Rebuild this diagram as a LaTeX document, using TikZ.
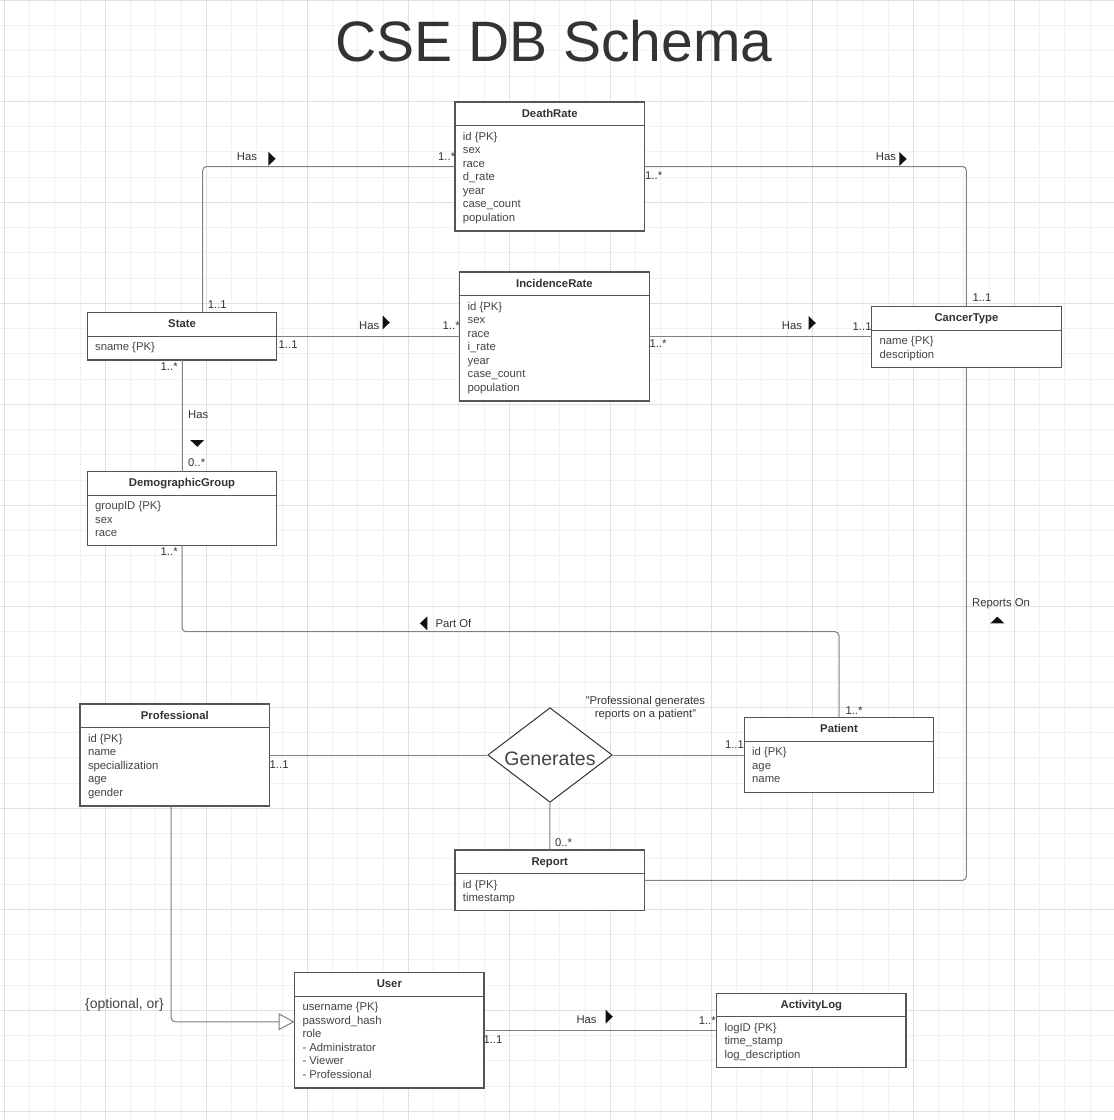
\documentclass[tikz,border=0pt]{standalone}
\usepackage{fontspec}
\setmainfont{Liberation Sans}
\usetikzlibrary{arrows.meta,shapes.geometric,calc}

\definecolor{txt}{HTML}{333333}
\definecolor{attr}{HTML}{444444}
\definecolor{boxline}{HTML}{555555}
\definecolor{conncol}{HTML}{808080}
\definecolor{gridminor}{HTML}{F1F1F1}
\definecolor{gridmajor}{HTML}{E0E0E0}
\definecolor{tricol}{HTML}{111111}

\newcommand{\fs}{\fontsize{11.3}{13.5}\selectfont}

\tikzset{
  entity/.style={draw=boxline, line width=1.3pt, fill=white, anchor=north west,
    inner sep=0pt, outer sep=0pt, minimum width=189.5pt},
  divline/.style={draw=boxline, line width=1.3pt},
  hdr/.style={anchor=base, font=\fs\bfseries, text=txt, inner sep=0pt},
  att/.style={anchor=base west, font=\fs, text=attr, inner sep=0pt},
  lbl/.style={anchor=base west, font=\fs, text=txt, inner sep=0pt},
  conn/.style={draw=conncol, line width=1pt, rounded corners=4pt},
  tri/.style={fill=tricol},
  relation/.style={diamond, draw=black!80, line width=1pt, fill=white, inner sep=0pt,
    minimum width=124.5pt, minimum height=94.6pt},
  reltext/.style={anchor=base, inner sep=0pt, font=\fontsize{19.5}{22}\selectfont, text=attr},
}

% #1 name, #2 x, #3 y, #4 height, #5 header, #6 attributes
\newcommand{\drawentity}[6]{%
  \node[entity, minimum height=#4pt] (#1) at (#2,#3) {};
  \draw[divline] ($(#1.north west)+(0,23.5)$) -- ($(#1.north east)+(0,23.5)$);
  \node[hdr] (#1-h) at ($(#1.north)+(0,15)$) {#5};
  \foreach \a [count=\i] in {#6} {
    \node[att] (#1-a\i) at ($(#1.north west)+(7.7,23.5+14.5+13.55*\i-13.55)$) {\a};
  }%
}

\begin{document}
\begin{tikzpicture}[x=1pt,y=-1pt]
\useasboundingbox (0,0) rectangle (1114,1120);
\fill[white] (0,0) rectangle (1114,1120);

% grid
\foreach \i in {0,...,44} {
  \draw[gridminor, line width=1pt] (4.3+25.25*\i,0) -- (4.3+25.25*\i,1120);
  \draw[gridminor, line width=1pt] (0,0.3+25.25*\i) -- (1114,0.3+25.25*\i);
}
\foreach \i in {0,...,11} {
  \draw[gridmajor, line width=1pt] (4.3+101*\i,0) -- (4.3+101*\i,1120);
  \draw[gridmajor, line width=1pt] (0,0.3+101*\i) -- (1114,0.3+101*\i);
}

% title
\node[anchor=base, inner sep=0pt, text=txt, font=\fontsize{57}{60}\selectfont] (title) at (554,61) {CSE DB Schema};

% entities
\drawentity{deathrate}{455}{102}{129}{DeathRate}{id \{PK\}, sex, race, d\_rate, year, case\_count, population}
\drawentity{incidencerate}{459.7}{272}{129}{IncidenceRate}{id \{PK\}, sex, race, i\_rate, year, case\_count, population}
\drawentity{state}{87.3}{312.7}{47.3}{State}{sname \{PK\}}
\drawentity{cancertype}{871.7}{306.7}{61}{CancerType}{name \{PK\}, description}
\drawentity{demographicgroup}{87.3}{471.7}{73.6}{DemographicGroup}{groupID \{PK\}, sex, race}
\drawentity{professional}{80.1}{704}{102}{Professional}{id \{PK\}, name, speciallization, age, gender}
\drawentity{patient}{744.3}{717.7}{74.6}{Patient}{id \{PK\}, age, name}
\drawentity{report}{455}{850}{60.7}{Report}{id \{PK\}, timestamp}
\drawentity{user}{294.6}{972.7}{115.3}{User}{username \{PK\}, password\_hash, role, - Administrator, - Viewer, - Professional}
\drawentity{activitylog}{716.6}{993.3}{74.4}{ActivityLog}{logID \{PK\}, time\_stamp, log\_description}

% relationship diamond
\node[relation] (generates) at (550,755) {};
\node[reltext] (generates-t) at ($(generates.center)+(0,10)$) {Generates};

% connectors
\draw[conn] ($(state.north west)+(115.4,0)$) |- (deathrate.west);
\draw[conn] (deathrate.east) -| (cancertype.north);
\draw[conn] (state.east) -- (state.east -| incidencerate.west);
\draw[conn] (incidencerate.east) -- (incidencerate.east -| cancertype.west);
\draw[conn] (state.south) -- (demographicgroup.north);
\coordinate (partof) at (500,631.7);
\draw[conn] (demographicgroup.south) |- (partof) -| (patient.north);
\draw[conn] (cancertype.south) |- (report.east);
\draw[conn] (professional.east) -- (generates.west);
\draw[conn] (generates.east) -- (patient.west);
\draw[conn] (generates.south) -- (report.north);
\draw[conn, -{Triangle[fill=white, length=16pt, width=17pt]}] ($(professional.south)+(-3.7,0)$) |- ($(user.west)+(0,-8.6)$);
\draw[conn] (user.east) -- (user.east -| activitylog.west);

% direction triangles
\fill[tri] (268.3,151.8) -- (275.6,158.8) -- (268.3,165.8) -- cycle;
\fill[tri] (382.5,315.5) -- (389.8,322.5) -- (382.5,329.5) -- cycle;
\fill[tri] (899.3,152) -- (906.6,159) -- (899.3,166) -- cycle;
\fill[tri] (808.5,316) -- (815.8,323) -- (808.5,330) -- cycle;
\fill[tri] (605.5,1009.7) -- (612.8,1016.7) -- (605.5,1023.7) -- cycle;
\fill[tri] (190.2,440) -- (204.2,440) -- (197.2,446.8) -- cycle;
\fill[tri] (427.3,616.3) -- (427.3,630.3) -- (420,623.3) -- cycle;
\fill[tri] (990.3,623.4) -- (1004.3,623.4) -- (997.3,616.6) -- cycle;

% connector labels
\node[lbl] (l1) at (236.7,160) {Has};
\node[lbl] (l2) at (438,160.7) {1..*};
\node[lbl] (l3) at (645,179) {1..*};
\node[lbl] (l4) at (875.7,160) {Has};
\node[lbl] (l5) at (972.3,301.7) {1..1};
\node[lbl] (l6) at (781.7,329.3) {Has};
\node[lbl] (l7) at (852.5,330) {1..1};
\node[lbl] (l8) at (649.3,347.3) {1..*};
\node[lbl] (l9) at (207.7,308.7) {1..1};
\node[lbl] (l10) at (359,329.3) {Has};
\node[lbl] (l11) at (442.5,329.3) {1..*};
\node[lbl] (l12) at (278.5,348.3) {1..1};
\node[lbl] (l13) at (160.5,370) {1..*};
\node[lbl] (l14) at (188,418.3) {Has};
\node[lbl] (l15) at (188,466.7) {0..*};
\node[lbl] (l16) at (160.5,555) {1..*};
\node[lbl] (l17) at (435.3,627.3) {Part Of};
\node[lbl] (l18) at (972,606.7) {Reports On};
\node[lbl] (l19) at (845.3,714.7) {1..*};
\node[anchor=base, font=\fs, text=txt, inner sep=0pt] (l20a) at (645.5,704) {"Professional generates};
\node[anchor=base, font=\fs, text=txt, inner sep=0pt] (l20b) at (645.5,717.5) {reports on a patient"};
\node[lbl] (l21) at (269.5,768) {1..1};
\node[lbl] (l22) at (724.8,748.3) {1..1};
\node[lbl] (l23) at (554.8,846.3) {0..*};
\node[anchor=base west, inner sep=0pt, text=attr, font=\fontsize{14}{16}\selectfont] (l25) at (85,1008.5) {\{optional, or\}};
\node[lbl] (l26) at (483.3,1043.3) {1..1};
\node[lbl] (l27) at (576.3,1023.3) {Has};
\node[lbl] (l28) at (698.6,1024) {1..*};
\end{tikzpicture}
\end{document}
